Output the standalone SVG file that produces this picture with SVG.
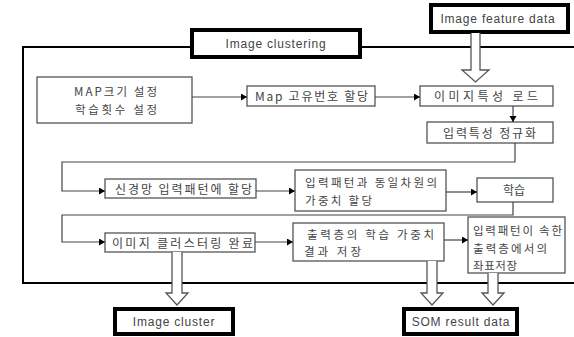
<svg xmlns="http://www.w3.org/2000/svg" width="574" height="337" viewBox="0 0 574 337">
<defs>
<style>
.box{fill:#fff;stroke:#555;stroke-width:1.3}
.tbox{fill:#fff;stroke:#000;stroke-width:4}
.kt{font-family:"Noto Sans CJK KR","Noto Sans",sans-serif;font-size:12px;fill:#444}
.k2{font-size:11.5px}
.et{font-family:"Liberation Sans",Arial,sans-serif;font-size:12px;fill:#444;letter-spacing:0.8px}
.c{text-anchor:middle}
.con{fill:none;stroke:#444;stroke-width:1.2}
.hol{fill:#fff;stroke:#555;stroke-width:1.3;stroke-linejoin:miter}
.frame{fill:none;stroke:#000;stroke-width:2}
</style>
<marker id="ah" markerUnits="userSpaceOnUse" markerWidth="8" markerHeight="8" refX="6" refY="3.5" orient="auto">
<path d="M0,0 L6,3.5 L0,7 Z" fill="#000"/>
</marker>
</defs>
<rect width="574" height="337" fill="#fff"/>
<path class="frame" d="M576,47 H23 V283 H576"/>
<g id="n-clustering"><rect class="tbox" x="192" y="30" width="168" height="27"/><text class="et c" x="276" y="48">Image clustering</text></g>
<g id="n-feature"><rect class="tbox" x="431" y="5" width="137" height="27"/><text class="et c" x="498" y="23">Image feature data</text></g>
<g id="n-map"><rect class="box" x="37" y="77" width="155" height="46"/><text class="kt k2" x="74" y="96" textLength="83">MAP크기 설정</text><text class="kt k2" x="75" y="113.5" textLength="82">학습횟수 설정</text></g>
<g id="n-mapid"><rect class="box" x="247" y="86" width="128" height="20"/><text class="kt" x="255" y="100.5" textLength="113">Map 고유번호 할당</text></g>
<g id="n-load"><rect class="box" x="420" y="86" width="133" height="20"/><text class="kt" x="434" y="101" textLength="104">이미지특성 로드</text></g>
<g id="n-norm"><rect class="box" x="427" y="122" width="126" height="21"/><text class="kt" x="443" y="137.5" textLength="93">입력특성 정규화</text></g>
<g id="n-assign"><rect class="box" x="105" y="179" width="151" height="19"/><text class="kt" x="115" y="193.5" textLength="137">신경망 입력패턴에 할당</text></g>
<g id="n-weight"><rect class="box" x="295" y="170" width="151" height="41"/><text class="kt k2" x="305" y="187" textLength="132">입력패턴과 동일차원의</text><text class="kt k2" x="305" y="204.5" textLength="67">가중치 할당</text></g>
<g id="n-learn"><rect class="box" x="477" y="178" width="76" height="24"/><text class="kt" x="503" y="195" textLength="22">학습</text></g>
<g id="n-done"><rect class="box" x="105" y="233" width="150" height="19"/><text class="kt" x="112" y="247.5" textLength="141">이미지 클러스터링 완료</text></g>
<g id="n-save"><rect class="box" x="293" y="223" width="151" height="38"/><text class="kt k2" x="307" y="238.5" textLength="127">출력층의 학습 가중치</text><text class="kt k2" x="304" y="256" textLength="57">결과 저장</text></g>
<g id="n-coord"><rect class="box" x="468" y="217" width="97" height="56"/><text class="kt k2" x="473" y="235" textLength="89">입력패턴이 속한</text><text class="kt k2" x="473" y="252.5" textLength="74">출력층에서의</text><text class="kt k2" x="473" y="270" textLength="44">좌표저장</text></g>
<g id="n-cluster"><rect class="tbox" x="115" y="309" width="118" height="25"/><text class="et c" x="174" y="326">Image cluster</text></g>
<g id="n-som"><rect class="tbox" x="404" y="309" width="113" height="25"/><text class="et c" x="461" y="326">SOM result data</text></g>
<g id="connectors">
<path class="con" d="M192,97 H247" marker-end="url(#ah)"/>
<path class="con" d="M375,97 H420" marker-end="url(#ah)"/>
<path class="con" d="M513,106 V122" marker-end="url(#ah)"/>
<path class="con" d="M515,143 V162 H62 V191 H105" marker-end="url(#ah)"/>
<path class="con" d="M256,191 H295" marker-end="url(#ah)"/>
<path class="con" d="M446,192 H477" marker-end="url(#ah)"/>
<path class="con" d="M513,202 V215 H62 V242 H105" marker-end="url(#ah)"/>
<path class="con" d="M255,242 H293" marker-end="url(#ah)"/>
<path class="con" d="M444,240 H468" marker-end="url(#ah)"/>
<path class="hol" d="M471,33 V70 H462 L475.5,82 L489,70 H480 V33"/>
<path class="hol" d="M172,252 V293 H166 L177,305 L188,293 H182 V252"/>
<path class="hol" d="M427,261 V293 H421 L432,305 L443,293 H437 V261"/>
<path class="hol" d="M488,273 V293 H482 L493,305 L504,293 H498 V273"/>
</g>
</svg>
